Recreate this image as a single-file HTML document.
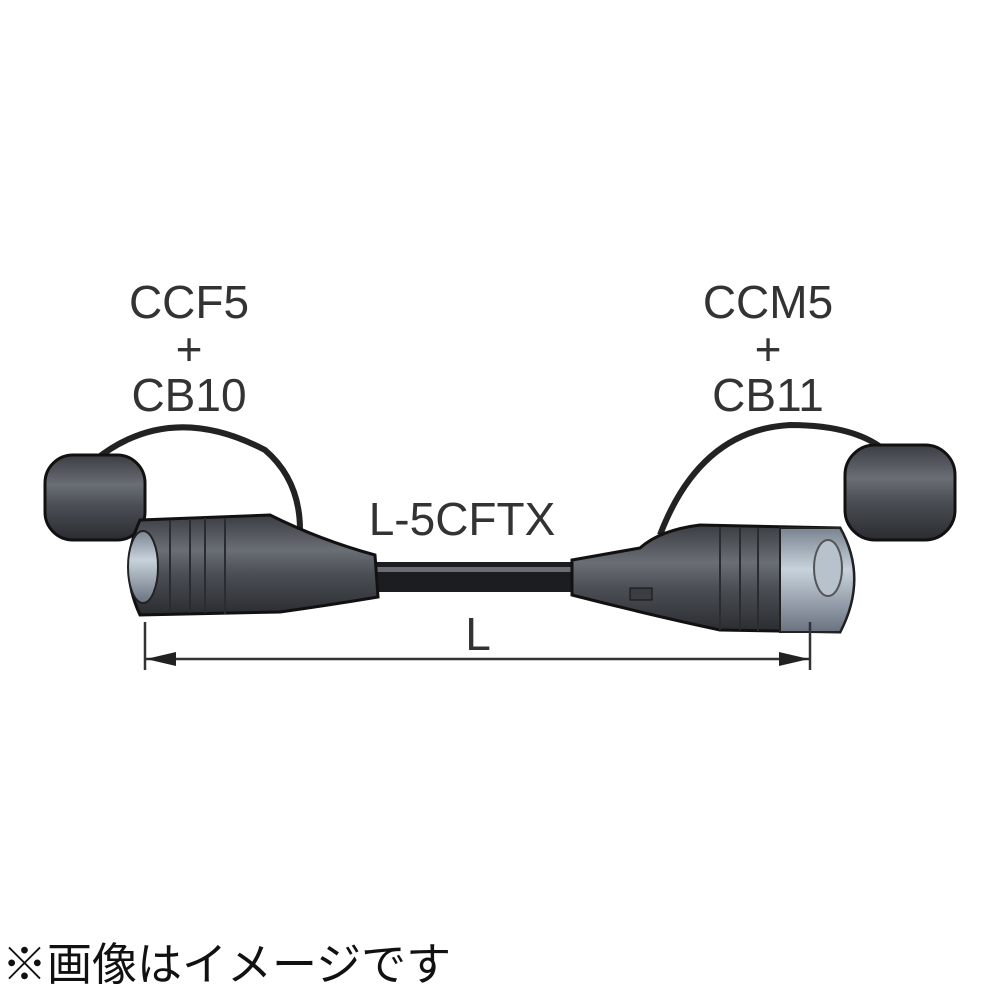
<!DOCTYPE html>
<html><head><meta charset="utf-8"><style>
html,body{margin:0;padding:0;background:#fff;}
svg{display:block}
text{font-family:"Liberation Sans","Noto Sans CJK JP",sans-serif;fill:#333}
</style></head><body>
<svg width="1000" height="1000" viewBox="0 0 1000 1000" xmlns="http://www.w3.org/2000/svg">
<defs>
<linearGradient id="g" x1="0" y1="0" x2="0" y2="1">
<stop offset="0" stop-color="#3a3d42"/><stop offset="0.35" stop-color="#6a6e75"/><stop offset="0.6" stop-color="#4a4e54"/><stop offset="1" stop-color="#2a2c30"/>
</linearGradient>
<linearGradient id="m" x1="0" y1="0" x2="0" y2="1">
<stop offset="0" stop-color="#7a8490"/><stop offset="0.4" stop-color="#c8d2dc"/><stop offset="1" stop-color="#6a7280"/>
</linearGradient>
</defs>
<g font-size="46" text-anchor="middle">
<text x="189" y="318">CCF5</text>
<text x="189" y="365">+</text>
<text x="189" y="411">CB10</text>
<text x="768" y="318">CCM5</text>
<text x="768" y="365">+</text>
<text x="768" y="411">CB11</text>
<text x="462" y="535">L-5CFTX</text>
<text x="478" y="650">L</text>
</g>
<path d="M95 460 Q170 400 265 450 Q300 480 300 530" fill="none" stroke="#222" stroke-width="6"/>
<path d="M660 535 Q700 430 790 425 Q860 425 890 455" fill="none" stroke="#222" stroke-width="6"/>
<rect x="360" y="562" width="230" height="30" fill="#1c1d20"/>
<rect x="360" y="567" width="230" height="5" fill="#6a6d72"/>
<rect x="45" y="455" width="100" height="85" rx="28" fill="url(#g)" stroke="#111" stroke-width="3"/>
<path d="M140 520 L270 515 Q320 540 375 555 L378 597 Q330 605 280 612 L140 615 Q118 568 140 520Z" fill="url(#g)" stroke="#111" stroke-width="3"/>
<g stroke="#2a2c30" stroke-width="2" fill="none"><path d="M170 520 V612M190 519 V613M205 518V613M225 518V614"/></g>
<ellipse cx="143" cy="567" rx="15" ry="36" fill="url(#m)" stroke="#222" stroke-width="2"/>
<rect x="845" y="445" width="110" height="95" rx="30" fill="url(#g)" stroke="#111" stroke-width="3"/>
<path d="M572 560 L640 548 Q660 530 700 525 L840 528 Q868 578 840 632 L720 630 Q650 615 572 595Z" fill="url(#g)" stroke="#111" stroke-width="3"/>
<g stroke="#2a2c30" stroke-width="2" fill="none"><path d="M720 527 V630M740 527V630M758 528V631"/></g>
<path d="M780 528 L840 528 Q868 578 840 632 L780 632Z" fill="url(#m)" stroke="#222" stroke-width="2"/>
<ellipse cx="828" cy="568" rx="14" ry="28" fill="#b8c2cc" stroke="#555" stroke-width="2"/>
<rect x="630" y="588" width="22" height="12" fill="#3a3d42" stroke="#111"/>
<g stroke="#333" stroke-width="2.5">
<line x1="145" y1="622" x2="145" y2="670"/>
<line x1="810" y1="622" x2="810" y2="670"/>
<line x1="145" y1="659" x2="810" y2="659"/>
</g>
<path d="M146 659 L176 652 L176 666Z" fill="#222"/>
<path d="M809 659 L779 652 L779 666Z" fill="#222"/>
<text x="2" y="980" font-size="45" style="fill:#111">※画像はイメージです</text>
</svg>
</body></html>
